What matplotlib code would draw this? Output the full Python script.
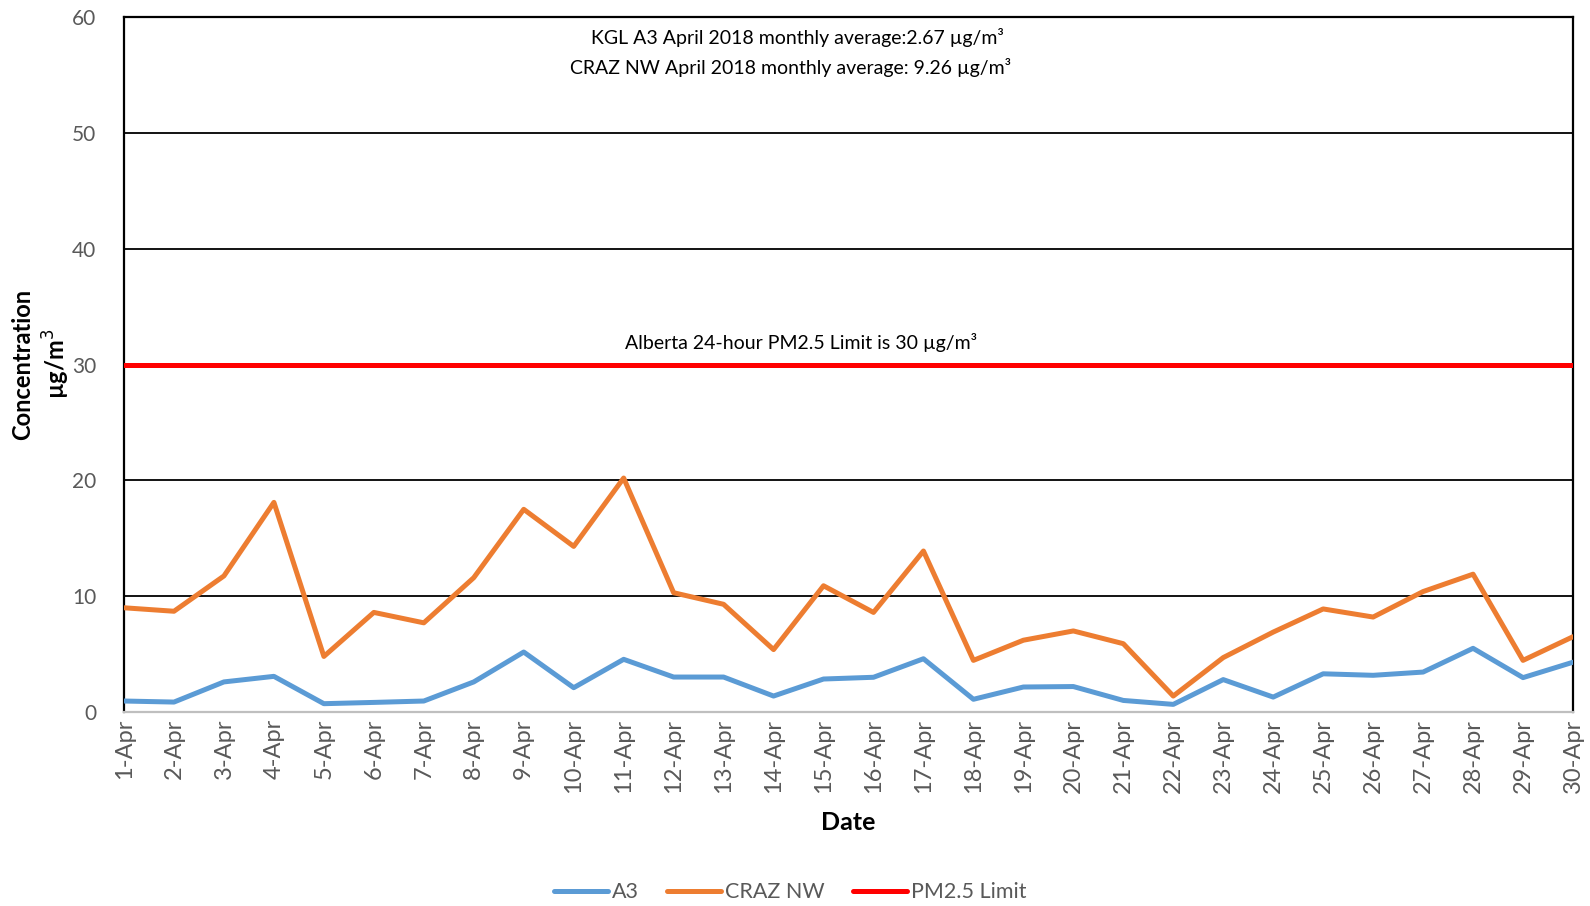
import numpy as np
import matplotlib
matplotlib.use("Agg")
import matplotlib.pyplot as plt

# Daily PM2.5 concentrations, April 2018 (ug/m3)
dates = [f"{d}-Apr" for d in range(1, 31)]
a3 = [0.95, 0.86, 2.6, 3.08, 0.72, 0.83, 0.95, 2.6, 5.18, 2.1,
      4.55, 3.02, 3.02, 1.38, 2.85, 3.0, 4.6, 1.1, 2.16, 2.2,
      1.0, 0.66, 2.8, 1.29, 3.3, 3.17, 3.45, 5.5, 2.97, 4.3]
craz_nw = [9.0, 8.7, 11.75, 18.1, 4.8, 8.6, 7.7, 11.6, 17.5, 14.3,
           20.2, 10.3, 9.3, 5.39, 10.9, 8.6, 13.9, 4.46, 6.2, 7.0,
           5.9, 1.38, 4.7, 6.9, 8.9, 8.2, 10.4, 11.9, 4.46, 6.5]
pm25_limit = 30
a3_avg = 2.67
craz_avg = 9.26
y_ticks = [0, 10, 20, 30, 40, 50, 60]

plt.rcParams["font.family"] = ["Lato", "DejaVu Sans"]

fig = plt.figure(figsize=(15.9, 9.06), dpi=100)
ax = fig.add_axes([0.078, 0.2141, 0.9113, 0.7671])

x = np.arange(len(dates))
ax.plot(x, a3, color="#5B9BD5", lw=3.6, solid_capstyle="round", label="A3", zorder=3)
ax.plot(x, craz_nw, color="#ED7D31", lw=3.6, solid_capstyle="round", label="CRAZ NW", zorder=3)
ax.plot(x, [pm25_limit] * len(x), color="#FF0000", lw=3.6, solid_capstyle="round",
        label="PM2.5 Limit", zorder=4)

ax.set_xlim(0, len(dates) - 1)
ax.set_ylim(0, 60)
ax.set_yticks(y_ticks)
ax.set_xticks(x)
ax.set_xticklabels(dates, rotation=90)
ax.yaxis.grid(True, color="black", lw=1.3)
ax.set_axisbelow(True)
ax.tick_params(axis="both", length=0, labelcolor="#595959")
ax.tick_params(axis="y", pad=20, labelsize=15)
ax.tick_params(axis="x", pad=5, labelsize=17)

for side in ["left", "right", "top"]:
    ax.spines[side].set_color("black")
    ax.spines[side].set_linewidth(1.6)
ax.spines["bottom"].set_color("#BFBFBF")
ax.spines["bottom"].set_linewidth(1.6)

# two-line y label drawn as separate texts to control spacing
fig.text(0.0145, 0.598, "Concentration", rotation=90, ha="center", va="center",
         fontsize=17, fontweight="bold")
fig.text(0.0355, 0.598, "µg/m$^3$", rotation=90, ha="center", va="center",
         fontsize=17, fontweight="bold")
ax.set_xlabel("Date", fontsize=18, fontweight="bold", labelpad=13)

ax.text(13.47, 58.2, f"KGL A3 April 2018 monthly average:{a3_avg:.2f} µg/m³",
        ha="center", va="center", fontsize=14)
ax.text(13.35, 55.6, f"CRAZ NW April 2018 monthly average: {craz_avg:.2f} µg/m³",
        ha="center", va="center", fontsize=14)
ax.text(13.55, 31.9, f"Alberta 24-hour PM2.5 Limit is {pm25_limit} µg/m³",
        ha="center", va="center", fontsize=14)

leg = fig.legend(loc="center", bbox_to_anchor=(0.497, 0.015), ncol=3, frameon=False,
                 fontsize=15.5, handlelength=2.5, columnspacing=1.3, handletextpad=0.2)
for t in leg.get_texts():
    t.set_color("#595959")

fig.savefig("out.png", dpi=100)
